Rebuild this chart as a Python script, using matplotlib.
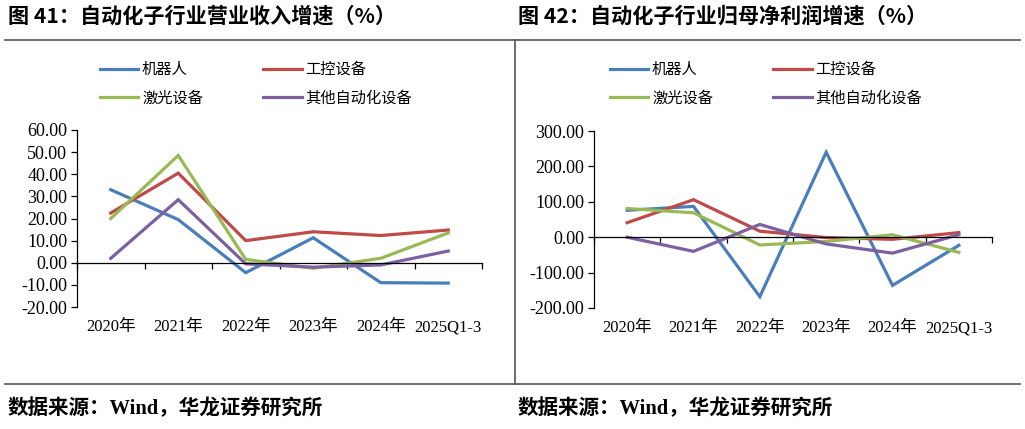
import numpy as np
import matplotlib.pyplot as plt
from matplotlib.lines import Line2D

plt.rcParams['font.family'] = ['Liberation Serif', 'Noto Sans CJK SC', 'DejaVu Sans']

# Data
categories = ['2020年', '2021年', '2022年', '2023年', '2024年', '2025Q1-3']
series_names = ['机器人', '工控设备', '激光设备', '其他自动化设备']
colors = ['#4A7EBB', '#BE4B48', '#98B954', '#7D60A0']

# 营业收入增速 (%)
rev_robot = [33.0, 19.5, -4.5, 11.3, -9.0, -9.2]
rev_ctrl = [22.5, 40.5, 10.0, 14.0, 12.3, 14.8]
rev_laser = [20.0, 48.5, 1.5, -2.5, 2.0, 13.5]
rev_other = [2.0, 28.5, -0.5, -2.0, -1.0, 5.3]

# 归母净利润增速 (%)
np_robot = [76.0, 87.0, -168.0, 240.0, -136.0, -23.0]
np_ctrl = [41.0, 106.0, 17.0, -1.0, -6.0, 13.0]
np_laser = [81.0, 69.0, -22.0, -12.0, 7.0, -43.0]
np_other = [0.0, -40.0, 36.0, -19.0, -45.0, 7.0]

W, H = 1025, 429
fig = plt.figure(figsize=(W / 100, H / 100), dpi=100)


def px_axes(x0, y0, x1, y1):
    return fig.add_axes([x0 / W, 1 - y1 / H, (x1 - x0) / W, (y1 - y0) / H])


def draw_panel(ax, data, ylim, yticks, legend_x, legend_y):
    x = np.arange(len(categories))
    handles = []
    for vals, c, name in zip(data, colors, series_names):
        ln, = ax.plot(x, vals, color=c, lw=2.3, label=name, solid_joinstyle='miter')
        handles.append(ln)
    ax.set_xlim(-0.5, len(categories) - 0.5)
    ax.set_ylim(*ylim)
    ax.set_yticks(yticks)
    ax.set_yticklabels(['%.2f' % v for v in yticks])
    for s in ['top', 'right']:
        ax.spines[s].set_visible(False)
    ax.spines['bottom'].set_position(('data', 0))
    ax.spines['left'].set_linewidth(0.9)
    ax.spines['bottom'].set_linewidth(0.9)
    ax.tick_params(axis='y', direction='out', length=4, width=0.9, labelsize=13, pad=3)
    ax.set_xticks(np.arange(len(categories) + 1) - 0.5)
    ax.set_xticklabels([])
    ax.tick_params(axis='x', direction='out', length=4, width=0.9)
    for i, lab in enumerate(categories):
        ax.text(i, -0.115, lab, transform=ax.get_xaxis_transform(), ha='center', va='center',
                fontsize=12)
    order = [0, 2, 1, 3]
    fig.legend([handles[i] for i in order], [series_names[i] for i in order],
               loc='upper left', bbox_to_anchor=(legend_x / W, 1 - legend_y / H), ncol=2,
               frameon=False, handlelength=2.5, handletextpad=0.25, columnspacing=3.95,
               borderpad=0, borderaxespad=0, labelspacing=0.75,
               prop={'family': ['Noto Sans CJK SC'], 'size': 11})


ax1 = px_axes(77, 130, 482, 307)
draw_panel(ax1, [rev_robot, rev_ctrl, rev_laser, rev_other], (-20, 60),
           np.arange(-20, 61, 10), 100, 61)

ax2 = px_axes(594, 131, 992, 308)
draw_panel(ax2, [np_robot, np_ctrl, np_laser, np_other], (-200, 300),
           np.arange(-200, 301, 100), 610, 61)

title_font = {'family': ['Noto Sans CJK SC'], 'size': 15.2, 'weight': 'bold'}
fig.text(8 / W, 1 - 16 / H, '图 41：自动化子行业营业收入增速（%）', ha='left', va='center', **title_font)
fig.text(518 / W, 1 - 16 / H, '图 42：自动化子行业归母净利润增速（%）', ha='left', va='center', **title_font)

src_font = {'family': ['Liberation Serif', 'Noto Sans CJK SC'], 'size': 14.8, 'weight': 'bold'}
fig.text(8 / W, 1 - 409 / H, '数据来源：Wind，华龙证券研究所', ha='left', va='center', **src_font)
fig.text(518 / W, 1 - 409 / H, '数据来源：Wind，华龙证券研究所', ha='left', va='center', **src_font)

# frame lines
sep = dict(color='#555555', lw=1.2, transform=fig.transFigure)
fig.add_artist(Line2D([5 / W, 1020 / W], [1 - 40 / H, 1 - 40 / H], **sep))
fig.add_artist(Line2D([5 / W, 1020 / W], [1 - 384 / H, 1 - 384 / H], **sep))
fig.add_artist(Line2D([515 / W, 515 / W], [1 - 40 / H, 1 - 384 / H], **sep))

fig.savefig('out.png', dpi=100)
